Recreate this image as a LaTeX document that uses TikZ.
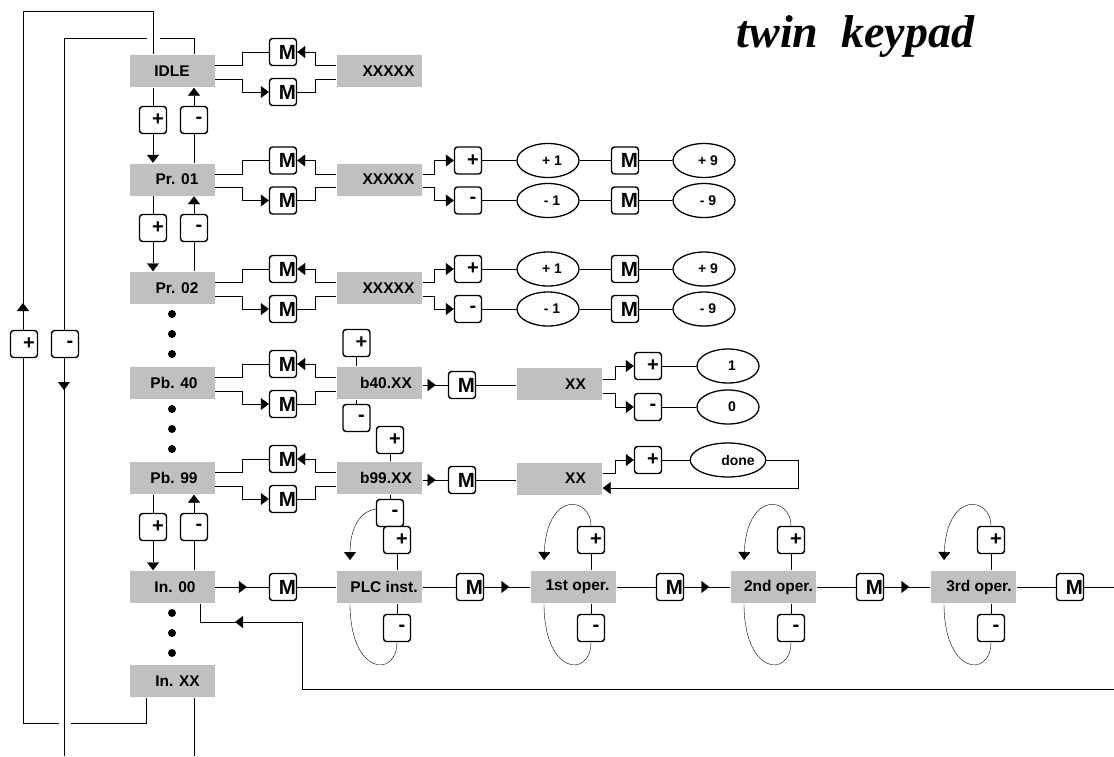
\documentclass[tikz,border=0pt]{standalone}
\usepackage{fontspec}
\setmainfont{Liberation Sans}
\newfontfamily\serifbi{Liberation Serif}
\usetikzlibrary{arrows.meta,shapes.geometric,backgrounds}
\definecolor{boxgray}{RGB}{192,192,192}
\tikzset{
  gbox/.style={rectangle, fill=boxgray, minimum width=85pt, minimum height=32pt, inner sep=0pt, font=\bfseries\fontsize{15.5}{18}\selectfont},
  key/.style={rectangle, draw, rounded corners=3pt, fill=white, line width=1.4pt, minimum width=27pt, minimum height=27pt, inner sep=0pt, font=\bfseries\fontsize{20}{22}\selectfont},
  mkey/.style={key, font=\bfseries\fontsize{20.5}{22}\selectfont},
  oval/.style={ellipse, draw, fill=white, line width=1.3pt, minimum width=62pt, minimum height=34pt, inner sep=0pt, font=\bfseries\fontsize{14}{16}\selectfont},
  arr/.style={-{Triangle[length=8pt,width=12pt]}},
}
% M pair between left box #1 and right box #2 at row y #3
\newcommand\mrow[3]{%
  \node[mkey] (#1mu) at (283,#3-19) {\hspace*{9pt}M};
  \node[mkey] (#1md) at (283,#3+21) {\hspace*{9pt}M};
  \begin{scope}[on background layer]
  \draw ([yshift=5.5pt]#1.east) -- ++(27,0) |- (#1mu.west);
  \draw[arr] ([yshift=5.5pt]#2.west) -- ++(-21,0) |- (#1mu.east);
  \draw[arr] ([yshift=-8pt]#1.east) -- ++(27,0) |- (#1md.west);
  \draw (#1md.east) -| ([xshift=-21pt,yshift=-8pt]#2.west) -- ([yshift=-8pt]#2.west);
  \end{scope}}
% + / - keys between upper #1 and lower #2 at y #3
\newcommand\updown[3]{%
  \node[key] (#1dp) at (153,#3) {\hspace*{10pt}+};
  \node[key] (#1dm) at (194,#3) {\hspace*{10pt}-};
  \begin{scope}[on background layer]
  \draw (#1.south -| #1dp) -- (#1dp.north);
  \draw[arr] (#1dp.south) -- (#2.north -| #1dp);
  \draw (#2.north -| #1dm) -- (#1dm.south);
  \draw[arr] (#1dm.north) -- (#1.south -| #1dm);
  \end{scope}}
% branch of a parameter value box #1 at row y #2
\newcommand\prbranch[2]{%
  \node[key] (#1p) at (468,#2-19) {\hspace*{10pt}+};
  \node[key] (#1m) at (468,#2+21) {\hspace*{10pt}-};
  \node[oval] (#1o1) at (548,#2-19) {\hspace*{8pt}+ 1};
  \node[mkey] (#1mm1) at (625,#2-19) {\hspace*{9pt}M};
  \node[oval] (#1o2) at (704,#2-19) {\hspace*{8pt}+ 9};
  \node[oval] (#1o3) at (548,#2+21) {\hspace*{8pt}- 1};
  \node[mkey] (#1mm2) at (625,#2+21) {\hspace*{9pt}M};
  \node[oval] (#1o4) at (704,#2+21) {\hspace*{8pt}- 9};
  \begin{scope}[on background layer]
  \draw[arr] ([yshift=5.5pt]#1.east) -- ++(11,0) |- (#1p.west);
  \draw[arr] ([yshift=-8pt]#1.east) -- ++(11,0) |- (#1m.west);
  \draw (#1p) -- (#1o1) -- (#1mm1) -- (#1o2);
  \draw (#1m) -- (#1o3) -- (#1mm2) -- (#1o4);
  \end{scope}}
% keys and lower loop of an operation box #1 with left edge #2
\newcommand\opkeys[2]{%
  \node[key] (#1p) at (#2+60,540) {\hspace*{10pt}+};
  \node[key] (#1m) at (#2+60,628) {\hspace*{10pt}-};
  \begin{scope}[on background layer]
  \draw (#1p.south) -- (#1.north -| #1p);
  \draw (#1m.north) -- (#1.south -| #1m);
  \draw (#1m.south) .. controls +(0,36) and +(0,72) .. (#1.south -| #2+13,0);
  \end{scope}}
\begin{document}
\begin{tikzpicture}[x=1pt,y=-1pt,line width=1.4pt]
\useasboundingbox (0,0) rectangle (1114,756);
% title
\node[anchor=base west, inner sep=0pt, font=\serifbi\bfseries\itshape\fontsize{46}{50}\selectfont] (title) at (736,47) {twin\ \ keypad};
% left column
\node[gbox] (idle) at (172,71) {IDLE};
\node[gbox] (pr1) at (172,179.5) {\hspace*{10pt}Pr. 01};
\node[gbox] (pr2) at (172,288) {\hspace*{10pt}Pr. 02};
\node[gbox] (pb40) at (172,383) {\hspace*{4pt}Pb. 40};
\node[gbox] (pb99) at (172,478) {\hspace*{4pt}Pb. 99};
\node[gbox] (in00) at (172,587) {\hspace*{6pt}In. 00};
\node[gbox] (inxx) at (172.5,681) {\hspace*{10pt}In. XX};
% right boxes
\node[gbox] (rx0) at (379.5,71) {\hspace*{18pt}XXXXX};
\node[gbox] (rx1) at (379.5,179.5) {\hspace*{18pt}XXXXX};
\node[gbox] (rx2) at (379.5,288) {\hspace*{18pt}XXXXX};
\node[gbox] (b40) at (379.5,383) {\hspace*{13pt}b40.XX};
\node[gbox] (b99) at (379.5,478) {\hspace*{13pt}b99.XX};
\node[gbox] (xx40) at (559.5,384) {\hspace*{32pt}XX};
\node[gbox] (xx99) at (559.5,478.5) {\hspace*{32pt}XX};
\node[gbox] (plc) at (379.5,587) {\hspace*{9pt}PLC inst.};
\node[gbox] (op1) at (573.5,587) {\hspace*{8pt}1st oper.};
\node[gbox] (op2) at (773.5,587) {\hspace*{10pt}2nd oper.};
\node[gbox] (op3) at (973.5,587) {\hspace*{11pt}3rd oper.};
% dots
\foreach \y in {314,334,354,409,429,449,613,633,653} \fill (172,\y) circle (4pt);
% M pairs
\mrow{idle}{rx0}{71}
\mrow{pr1}{rx1}{179.5}
\mrow{pr2}{rx2}{288}
\mrow{pb40}{b40}{383}
\mrow{pb99}{b99}{478}
% + / - between rows
\updown{idle}{pr1}{120}
\updown{pr1}{pr2}{228}
\updown{pb99}{in00}{527}
% parameter branches
\prbranch{rx1}{179.5}
\prbranch{rx2}{288}
% Pb.40
\node[key] (b40p) at (356.5,343) {\hspace*{10pt}+};
\node[key] (b40m) at (356.5,418) {\hspace*{10pt}-};
\node[mkey] (b40M) at (462,385) {\hspace*{9pt}M};
\node[key] (x40p) at (648,366) {\hspace*{10pt}+};
\node[key] (x40m) at (648,407) {\hspace*{10pt}-};
\node[oval] (x40o1) at (728,366) {\hspace*{8pt}1};
\node[oval] (x40o0) at (728,407) {\hspace*{8pt}0};
% Pb.99
\node[key] (b99p) at (390,440) {\hspace*{10pt}+};
\node[key] (b99m) at (390,513) {\hspace*{10pt}-};
\node[mkey] (b99M) at (462,480) {\hspace*{9pt}M};
\node[key] (x99p) at (648,460) {\hspace*{10pt}+};
\node[oval] (done) at (728,460) {\hspace*{20pt}done};
\coordinate (dn) at (798,488);
% In.00 chain
\node[mkey] (m0) at (283,587) {\hspace*{9pt}M};
\node[mkey] (m1) at (470,587) {\hspace*{9pt}M};
\node[mkey] (m2) at (670,587) {\hspace*{9pt}M};
\node[mkey] (m3) at (870,587) {\hspace*{9pt}M};
\node[mkey] (m4) at (1070,587) {\hspace*{9pt}M};
\coordinate (chainend) at (1114,587);
\opkeys{plc}{337}
\opkeys{op1}{531}
\opkeys{op2}{731}
\opkeys{op3}{931}
% outer loop keys
\node[key] (lp) at (24,344) {\hspace*{10pt}+};
\node[key] (lm) at (65,344) {\hspace*{10pt}-};
\coordinate (r1) at (1114,689);
\coordinate (r2) at (302,622);
\begin{scope}[on background layer]
% Pb.40 lines
\draw (b40p.south) -- (b40.north -| b40p);
\draw (b40m.north) -- (b40.south -| b40m);
\draw (b40.east |- b40M) -- (b40M.west);
\draw[arr] (b40.east |- b40M) -- ++(13,0);
\draw (b40M.east) -- (xx40.west |- b40M);
\draw[arr] ([yshift=5pt]xx40.east) -- ++(12,0) |- (x40p.west);
\draw[arr] ([yshift=-9pt]xx40.east) -- ++(12,0) |- (x40m.west);
\draw (x40p) -- (x40o1);
\draw (x40m) -- (x40o0);
% Pb.99 lines
\draw (b99p.south) -- (b99.north -| b99p);
\draw (b99m.north) -- (b99.south -| b99m);
\draw (b99.east |- b99M) -- (b99M.west);
\draw[arr] (b99.east |- b99M) -- ++(13,0);
\draw (b99M.east) -- (xx99.west |- b99M);
\draw[arr] ([yshift=5.5pt]xx99.east) -- ++(12,0) |- (x99p.west);
\draw (x99p) -- (done);
\draw[arr] (done.east) -| (dn) -- (xx99.east |- dn);
% In.00 chain
\draw (in00) -- (m0);
\draw[arr] (in00.east) -- ([xshift=-22pt]m0.west);
\draw (m0) -- (plc);
\draw (plc) -- (m1);
\draw (m1) -- (op1);
\draw[arr] (m1.east) -- ([xshift=-21pt]op1.west);
\draw (op1) -- (m2);
\draw (m2) -- (op2);
\draw[arr] (m2.east) -- ([xshift=-21pt]op2.west);
\draw (op2) -- (m3);
\draw (m3) -- (op3);
\draw[arr] (m3.east) -- ([xshift=-21pt]op3.west);
\draw (op3) -- (m4);
\draw (m4) -- (chainend);
% upper loops of operations
\draw[arr] ([yshift=4pt]b99m.west) .. controls (356,512) and (350,535) .. (350,560);
\draw[arr] (op1p.north) .. controls +(0,-29) and +(3,-70) .. (544,560);
\draw[arr] (op2p.north) .. controls +(0,-29) and +(3,-70) .. (744,560);
\draw[arr] (op3p.north) .. controls +(0,-29) and +(3,-70) .. (944,560);
% return line
\draw (r1) -| (r2) -| (in00.south -| 200,0);
\draw[arr] (r2) -- ++(-67,0);
% outer loops
\draw (inxx.south -| 146,0) |- (71,723);
\draw (59,723) -| (23,11) -| (idle.north -| 153,0);
\draw[arr] (lp.north -| 23,0) -- (23,303);
\draw (idle.north -| 194,0) |- (160,38);
\draw (147,38) -| (64,756);
\draw[arr] (lm.south -| 64,0) -- (64,390);
\draw (inxx.south -| 194,0) -- (194,756);
\end{scope}
\end{tikzpicture}
\end{document}
